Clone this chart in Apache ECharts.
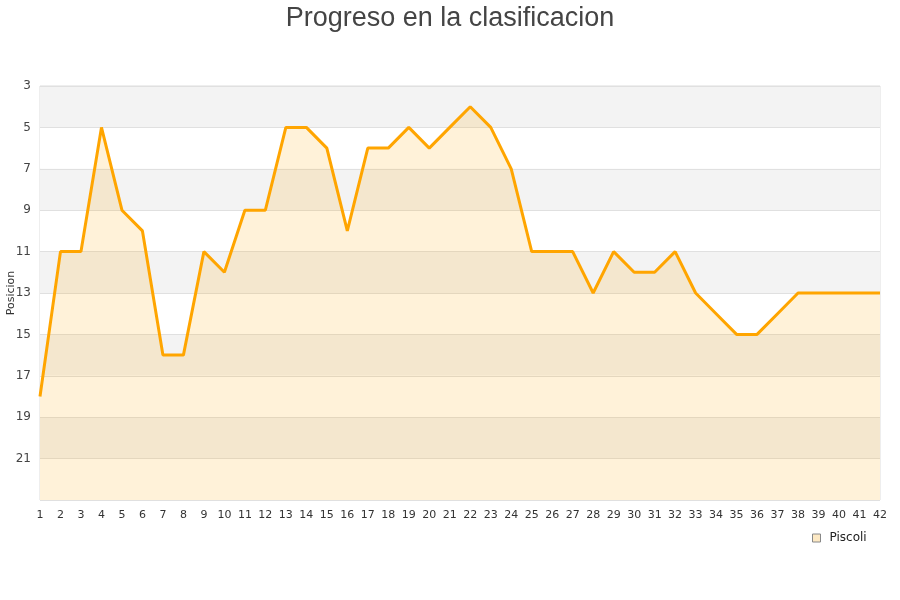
<!DOCTYPE html>
<html>
<head>
<meta charset="utf-8">
<script src="https://cdn.jsdelivr.net/npm/echarts@6/dist/echarts.min.js"></script>
<style>html,body{margin:0;padding:0;background:#fff}#c{width:900px;height:600px}</style>
</head>
<body>
<div id="c"></div>
<script>
const jornadas = ['1','2','3','4','5','6','7','8','9','10','11','12','13','14','15','16','17','18','19','20','21','22','23','24','25','26','27','28','29','30','31','32','33','34','35','36','37','38','39','40','41','42'];
const piscoli = [18,11,11,5,9,10,16,16,11,12,9,9,5,5,6,10,6,6,5,6,5,4,5,7,11,11,11,13,11,12,12,11,13,14,15,15,14,13,13,13,13,13];
const seriesName = 'Piscoli';
const titleText = 'Progreso en la clasificacion';
const yName = 'Posicion';

const chart = echarts.init(document.getElementById('c'), null, {renderer: 'canvas'});
chart.setOption({
  animation: false,
  title: {
    text: titleText, left: 'center', top: 0,
    textStyle: {fontFamily: 'Liberation Sans, Arial, sans-serif', fontSize: 27, fontWeight: 'normal', color: '#444'}
  },
  legend: {
    left: 807, top: 527,
    itemWidth: 8, itemHeight: 8,
    textStyle: {fontFamily: 'DejaVu Sans', fontSize: 12, color: '#222', padding: [0, 0, 0, 4]},
    data: [{name: seriesName, icon: 'rect', itemStyle: {color: '#fde9c4', borderColor: '#888', borderWidth: 1}}]
  },
  grid: {left: 40, right: 20, top: 86, bottom: 100, containLabel: false, outerBoundsMode: 'none', show: true, borderColor: '#ddd', borderWidth: 1, backgroundColor: 'transparent'},
  xAxis: {
    type: 'category', data: jornadas, boundaryGap: false,
    axisLine: {show: false}, axisTick: {show: false},
    axisLabel: {fontFamily: 'DejaVu Sans', fontSize: 11, color: '#333', margin: 10, interval: 0},
    splitLine: {show: false}
  },
  yAxis: {
    type: 'value', inverse: true, min: 3, max: 23, interval: 2,
    name: yName, nameLocation: 'middle', nameGap: 23, nameMoveOverlap: false,
    nameTextStyle: {fontFamily: 'DejaVu Sans', fontSize: 11, color: '#333'},
    axisLine: {show: false}, axisTick: {show: false},
    axisLabel: {fontFamily: 'DejaVu Sans', fontSize: 12, color: '#444', margin: 9, showMaxLabel: false},
    splitLine: {show: true, lineStyle: {color: '#e0e0e0', width: 1}},
    splitArea: {show: true, areaStyle: {color: ['#f3f3f3', '#ffffff']}}
  },
  series: [{
    name: seriesName, type: 'line', data: piscoli,
    symbol: 'none',
    lineStyle: {color: '#FFA500', width: 3},
    itemStyle: {color: '#FFA500'},
    areaStyle: {color: 'rgba(255,165,0,0.21)', origin: 'end'}
  }]
});
</script>
</body>
</html>
